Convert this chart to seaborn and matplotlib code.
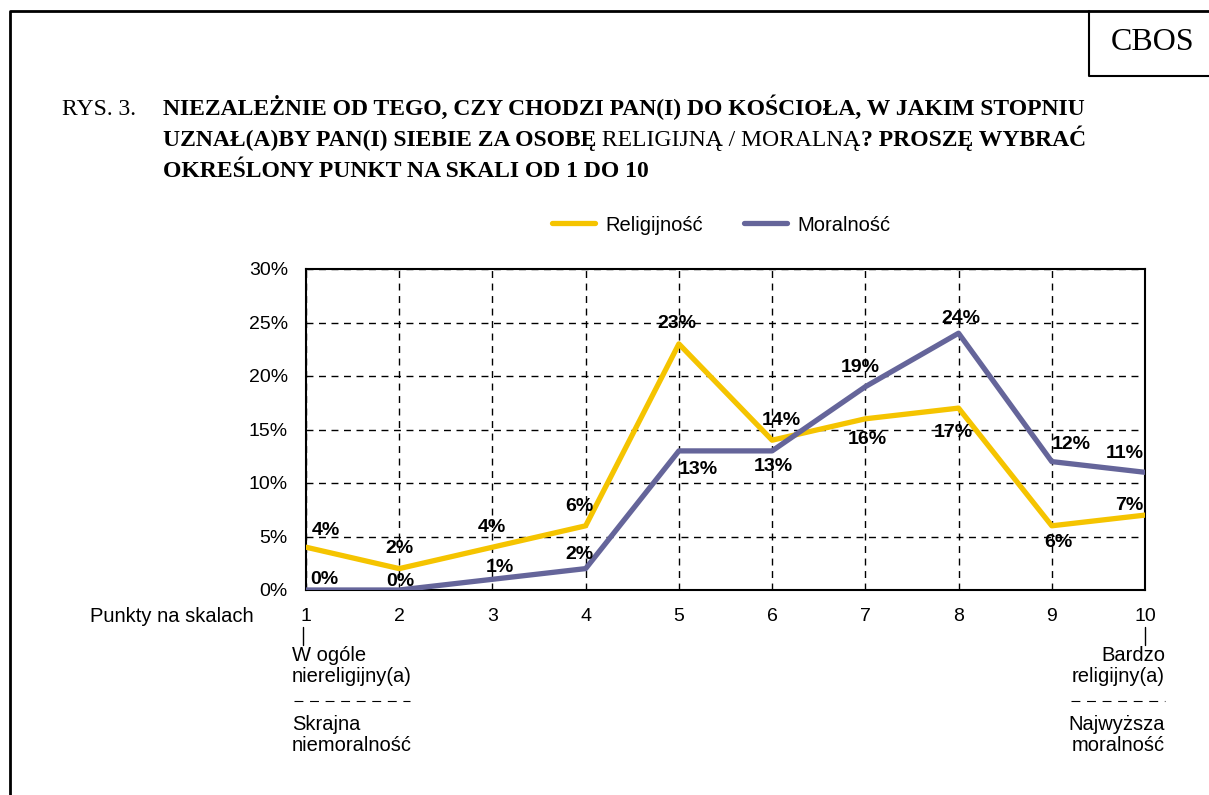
import matplotlib
matplotlib.use('Agg')
import matplotlib.pyplot as plt
from matplotlib.lines import Line2D
import seaborn as sns
import pandas as pd

# data
punkty = [1, 2, 3, 4, 5, 6, 7, 8, 9, 10]
religijnosc = [4, 2, 4, 6, 23, 14, 16, 17, 6, 7]
moralnosc = [0, 0, 1, 2, 13, 13, 19, 24, 12, 11]
serie = ['Religijność', 'Moralność']
y_ticks = [0, 5, 10, 15, 20, 25, 30]

# label offsets in pixels (dx, dy), y up
off_rel = [(20, 17), (0, 20), (-1, 20), (-6, 19), (-2, 20),
           (9, 20), (2, -21), (-5, -24), (7, -17), (-16, 10)]
off_mor = [(18, 11), (1, 8), (7, 12), (-6, 14), (19, -19),
           (1, -16), (-5, 19), (2, 15), (19, 17), (-20, 19)]

W, H = 1209, 795
sns.set_style('white')
plt.rcParams['font.family'] = ['Liberation Sans', 'DejaVu Sans']
plt.rcParams['text.color'] = 'black'
plt.rcParams['xtick.color'] = 'black'
plt.rcParams['ytick.color'] = 'black'
plt.rcParams['axes.labelcolor'] = 'black'

df = pd.DataFrame({
    'punkt': punkty * 2,
    'wartosc': religijnosc + moralnosc,
    'seria': [serie[0]] * len(punkty) + [serie[1]] * len(punkty),
})
colors = {'Religijność': '#F5C400', 'Moralność': '#65659A'}

fig = plt.figure(figsize=(W / 100, H / 100), dpi=100)
ax = fig.add_axes([306 / W, 1 - 590 / H, (1145 - 306) / W, (590 - 269) / H])

sns.lineplot(data=df, x='punkt', y='wartosc', hue='seria', palette=colors,
             linewidth=3.8, ax=ax, zorder=3)

ax.set_xlim(1, 10)
ax.set_ylim(0, 30)
ax.set_xticks(punkty)
ax.set_xticklabels([str(p) for p in punkty], fontsize=14)
ax.set_yticks(y_ticks)
ax.set_yticklabels([f'{v}%' for v in y_ticks], fontsize=14)
ax.tick_params(length=0)
ax.tick_params(axis='y', pad=13)
ax.tick_params(axis='x', pad=13)
ax.set_xlabel('')
ax.set_ylabel('')
ax.grid(True, color='black', linestyle=(0, (5, 4)), linewidth=1)
for s in ax.spines.values():
    s.set_color('black')
    s.set_linewidth(1.5)
    s.set_visible(True)

# data labels
for vals, offs in [(religijnosc, off_rel), (moralnosc, off_mor)]:
    for x, v, (dx, dy) in zip(punkty, vals, offs):
        ax.annotate(f'{v}%', (x, v), xytext=(dx, dy), textcoords='offset pixels',
                    ha='center', va='center', fontsize=14, fontweight='bold',
                    zorder=5, annotation_clip=False)

handles, labels = ax.get_legend_handles_labels()
ax.legend(handles, labels, loc='center', bbox_to_anchor=(0.495, 1.137), ncol=2,
          frameon=False, fontsize=14.5, handlelength=2.15, handletextpad=0.5,
          columnspacing=2.05)

# bottom annotations
fs = 14.5
fig.text(90 / W, 1 - 616 / H, 'Punkty na skalach', fontsize=fs, va='center', ha='left')
fig.add_artist(Line2D([303 / W, 303 / W], [1 - 627 / H, 1 - 645 / H], color='black', lw=1))
fig.add_artist(Line2D([1145 / W, 1145 / W], [1 - 627 / H, 1 - 645 / H], color='black', lw=1))
fig.text(292 / W, 1 - 646 / H, 'W ogóle\nniereligijny(a)', fontsize=fs, va='top',
         ha='left', linespacing=1.15)
fig.text(292 / W, 1 - 715 / H, 'Skrajna\nniemoralność', fontsize=fs, va='top',
         ha='left', linespacing=1.15)
fig.text(1165 / W, 1 - 646 / H, 'Bardzo\nreligijny(a)', fontsize=fs, va='top',
         ha='right', linespacing=1.15, multialignment='right')
fig.text(1165 / W, 1 - 715 / H, 'Najwyższa\nmoralność', fontsize=fs, va='top',
         ha='right', linespacing=1.15, multialignment='right')
for x0, x1 in [(294, 410), (1071, 1165)]:
    fig.add_artist(Line2D([x0 / W, x1 / W], [1 - 701 / H, 1 - 701 / H], color='black',
                          lw=0.8, linestyle=(0, (8, 6))))

# frame and CBOS box
fig.add_artist(Line2D([10 / W, 10 / W, 1], [0, 1 - 11 / H, 1 - 11 / H], color='black', lw=2))
fig.add_artist(Line2D([1089 / W, 1089 / W, 1], [1 - 11 / H, 1 - 76 / H, 1 - 76 / H],
                      color='black', lw=1.5))
fig.text(1153 / W, 1 - 43 / H, 'CBOS', family='Liberation Serif', fontsize=23,
         ha='center', va='center')

# title with mixed weights
serif = 'Liberation Serif'
tsize = 17
fig.text(62 / W, 1 - 115 / H, 'RYS. 3.', family=serif, fontsize=tsize, va='baseline')
renderer = fig.canvas.get_renderer()
rows = [
    [('NIEZALEŻNIE OD TEGO, CZY CHODZI PAN(I) DO KOŚCIOŁA, W JAKIM STOPNIU', 'bold')],
    [('UZNAŁ(A)BY PAN(I) SIEBIE ZA OSOBĘ', 'bold'), (' RELIGIJNĄ / MORALNĄ', 'normal'),
     ('? PROSZĘ WYBRAĆ', 'bold')],
    [('OKREŚLONY PUNKT NA SKALI OD 1 DO 10', 'bold')],
]
for i, row in enumerate(rows):
    xpix = 163
    ybase = 115 + i * 31
    for txt, wt in row:
        t = fig.text(xpix / W, 1 - ybase / H, txt, family=serif, fontsize=tsize,
                     fontweight=wt, va='baseline', ha='left')
        xpix = t.get_window_extent(renderer).x1

fig.savefig('out.png', dpi=100)
